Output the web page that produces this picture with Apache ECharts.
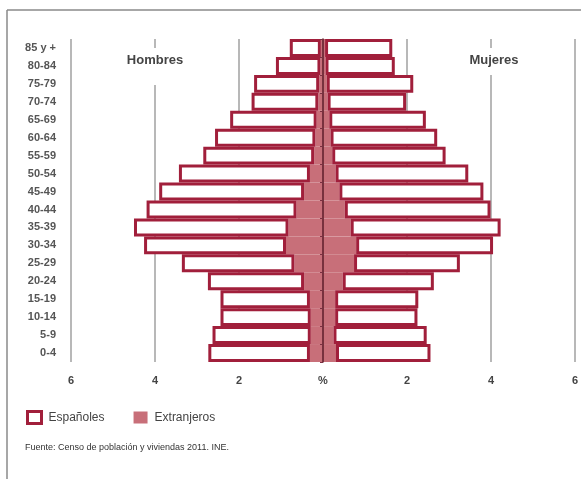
<!DOCTYPE html>
<html>
<head>
<meta charset="utf-8">
<script src="https://cdn.jsdelivr.net/npm/echarts@6/dist/echarts.min.js"></script>
<style>
html,body{margin:0;padding:0;background:#fff;}
#c{width:581px;height:479px;}
</style>
</head>
<body>
<div id="c"></div>
<script>
// Age groups, bottom to top
var categories = ['0-4','5-9','10-14','15-19','20-24','25-29','30-34','35-39','40-44','45-49','50-54','55-59','60-64','65-69','70-74','75-79','80-84','85 y +'];
// % of population, men
var menSpanish = [2.42,2.34,2.15,2.13,2.29,2.68,3.38,3.68,3.57,3.45,3.12,2.64,2.39,2.06,1.59,1.55,1.06,0.74];
var menForeign = [0.31,0.29,0.29,0.31,0.45,0.68,0.88,0.82,0.63,0.45,0.31,0.21,0.18,0.15,0.11,0.09,0.06,0.05];
// % of population, women
var womenSpanish = [2.25,2.22,1.96,1.98,2.17,2.52,3.26,3.57,3.47,3.43,3.16,2.70,2.54,2.30,1.87,2.06,1.65,1.60];
var womenForeign = [0.31,0.25,0.29,0.29,0.47,0.74,0.79,0.66,0.52,0.39,0.30,0.22,0.18,0.15,0.11,0.09,0.06,0.05];
var xTicks = [-6,-4,-2,0,2,4,6];

var RED = '#a11f3b';
var PINK = '#c86f79';
var FONT = '"Liberation Sans", Arial, sans-serif';

function neg(a){ return a.map(function(v){ return -v; }); }

var chart = echarts.init(document.getElementById('c'), null, {renderer:'canvas'});
chart.setOption({
  animation:false,
  backgroundColor:'#fff',
  grid:{left:71, right:6, top:39, height:323, containLabel:false},
  xAxis:{
    type:'value', min:xTicks[0], max:xTicks[xTicks.length-1], interval:2,
    axisLine:{show:false}, axisTick:{show:false},
    splitLine:{show:true, lineStyle:{color:'#a0a0a0', width:1.5}},
    axisLabel:{margin:13, fontFamily:FONT, fontSize:11, fontWeight:'bold', color:'#444',
      formatter:function(v){ return v === 0 ? '%' : String(Math.abs(v)); }}
  },
  yAxis:[{
    type:'category', data:categories, position:'left',
    axisLine:{show:false}, axisTick:{show:false}, splitLine:{show:false},
    axisLabel:{margin:15, fontFamily:FONT, fontSize:11, fontWeight:'bold', color:'#555'}
  },{
    type:'category', data:categories, position:'left', offset:-252,
    axisLine:{show:true, onZero:false, lineStyle:{color:'#5e1c2a', width:1.5}},
    axisTick:{show:true, length:3, lineStyle:{color:'#7a3040', width:1}},
    axisLabel:{show:false}, splitLine:{show:false}, z:5
  }],
  legend:{
    left:21, top:405, itemWidth:14, itemHeight:12, itemGap:29, icon:'rect',
    textStyle:{fontFamily:FONT, fontSize:12, color:'#444', padding:[0,0,0,2]},
    data:[
      {name:'Españoles', icon:'rect', itemStyle:{color:'#fff', borderColor:RED, borderWidth:3}},
      {name:'Extranjeros', icon:'rect', itemStyle:{color:PINK, borderWidth:0}}
    ]
  },
  series:[
    {name:'Extranjeros', type:'bar', stack:'all', data:neg(menForeign),
     barCategoryGap:'0%', barGap:'-100%', itemStyle:{color:PINK, borderWidth:0}},
    {name:'Españoles', type:'bar', stack:'all', data:neg(menSpanish),
     barCategoryGap:'0%', barGap:'-100%', itemStyle:{color:'#fff', borderColor:RED, borderWidth:3}},
    {name:'Extranjeros', type:'bar', stack:'all', data:womenForeign,
     barCategoryGap:'0%', barGap:'-100%', itemStyle:{color:PINK, borderWidth:0}},
    {name:'Españoles', type:'bar', stack:'all', data:womenSpanish,
     barCategoryGap:'0%', barGap:'-100%', itemStyle:{color:'#fff', borderColor:RED, borderWidth:3}}
  ],
  graphic:[
    {type:'line', z:20, shape:{x1:7, y1:10, x2:581, y2:10}, style:{stroke:'#8a8a8a', lineWidth:1.5}},
    {type:'line', z:20, shape:{x1:7, y1:10, x2:7, y2:479}, style:{stroke:'#8a8a8a', lineWidth:1.5}},
    {type:'rect', z:20, shape:{x:120, y:48, width:70, height:37}, style:{fill:'#fff'}},
    {type:'rect', z:20, shape:{x:462, y:48, width:64, height:27}, style:{fill:'#fff'}},
    {type:'text', z:21, x:155, y:60, style:{text:'Hombres', fontFamily:FONT, fontSize:13, fontWeight:'bold', fill:'#444', align:'center', verticalAlign:'middle'}},
    {type:'text', z:21, x:494, y:60, style:{text:'Mujeres', fontFamily:FONT, fontSize:13, fontWeight:'bold', fill:'#444', align:'center', verticalAlign:'middle'}},
    {type:'text', z:21, x:25, y:448, style:{text:'Fuente: Censo de población y viviendas 2011. INE.', fontFamily:FONT, fontSize:9, fill:'#333', verticalAlign:'middle'}}
  ]
});
</script>
</body>
</html>
